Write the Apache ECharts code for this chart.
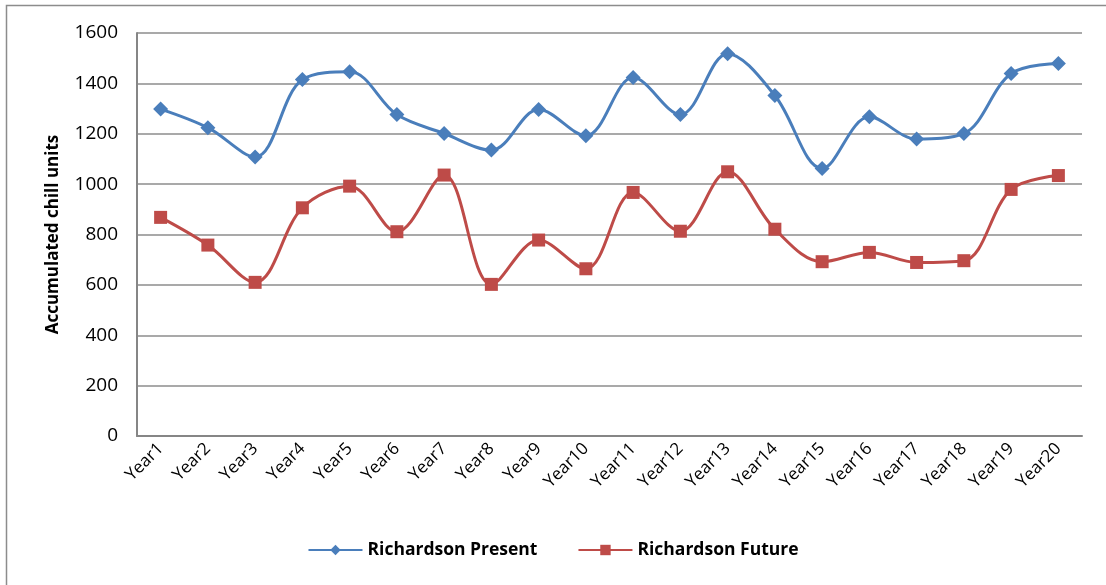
<!DOCTYPE html>
<html>
<head>
<meta charset="utf-8">
<script src="https://cdn.jsdelivr.net/npm/echarts@6/dist/echarts.min.js"></script>
<style>
  html, body { margin: 0; padding: 0; background: #fff; }
  #chart { width: 1106px; height: 585px; }
</style>
</head>
<body>
<div id="chart"></div>
<script>
  const years = ['Year1', 'Year2', 'Year3', 'Year4', 'Year5', 'Year6', 'Year7', 'Year8', 'Year9', 'Year10',
    'Year11', 'Year12', 'Year13', 'Year14', 'Year15', 'Year16', 'Year17', 'Year18', 'Year19', 'Year20'];
  const present = [1298, 1224, 1108, 1415, 1446, 1276, 1201, 1135, 1296, 1192,
    1423, 1276, 1518, 1352, 1062, 1267, 1179, 1201, 1439, 1479];
  const future = [868, 758, 610, 906, 992, 811, 1036, 602, 778, 664,
    967, 813, 1049, 821, 692, 729, 689, 696, 979, 1034];
  const yTicks = [0, 200, 400, 600, 800, 1000, 1200, 1400, 1600];

  const font = '"Open Sans", sans-serif';
  const blue = '#4a7ebb';
  const red = '#be4b48';

  const myChart = echarts.init(document.getElementById('chart'));
  myChart.setOption({
    animation: false,
    textStyle: { fontFamily: font },
    graphic: [{
      type: 'rect',
      shape: { x: 6.5, y: 5.5, width: 1200, height: 700 },
      style: { fill: 'none', stroke: '#8c8c8c', lineWidth: 1.5 },
      silent: true
    }],
    grid: { left: 137, right: 24, top: 33, bottom: 149 },
    legend: {
      bottom: 21,
      left: 'center',
      itemGap: 40,
      itemWidth: 54,
      itemHeight: 13,
      textStyle: { fontSize: 17.5, fontWeight: 'bold', color: '#000', fontFamily: font },
      data: ['Richardson Present', 'Richardson Future']
    },
    xAxis: {
      type: 'category',
      data: years,
      boundaryGap: true,
      axisLine: { lineStyle: { color: '#868686', width: 2 } },
      axisTick: { show: false },
      axisLabel: { rotate: 45, fontSize: 17, color: '#000', margin: 10, interval: 0 }
    },
    yAxis: {
      type: 'value',
      min: yTicks[0],
      max: yTicks[yTicks.length - 1],
      interval: 200,
      name: 'Accumulated chill units',
      nameLocation: 'middle',
      nameGap: 75,
      nameTextStyle: { fontSize: 17, fontWeight: 'bold', color: '#000' },
      axisLine: { show: true, lineStyle: { color: '#868686', width: 2 } },
      axisTick: { show: false },
      axisLabel: { fontSize: 19, color: '#000', margin: 19, formatter: v => String(v) },
      splitLine: { lineStyle: { color: '#8c8c8c', width: 1.5 } }
    },
    series: [
      {
        name: 'Richardson Present',
        type: 'line',
        data: present,
        smooth: 0.35,
        symbol: 'diamond',
        symbolSize: 15,
        lineStyle: { color: blue, width: 3 },
        itemStyle: { color: blue }
      },
      {
        name: 'Richardson Future',
        type: 'line',
        data: future,
        smooth: 0.35,
        symbol: 'rect',
        symbolSize: 13,
        lineStyle: { color: red, width: 3 },
        itemStyle: { color: red }
      }
    ]
  });
</script>
</body>
</html>
